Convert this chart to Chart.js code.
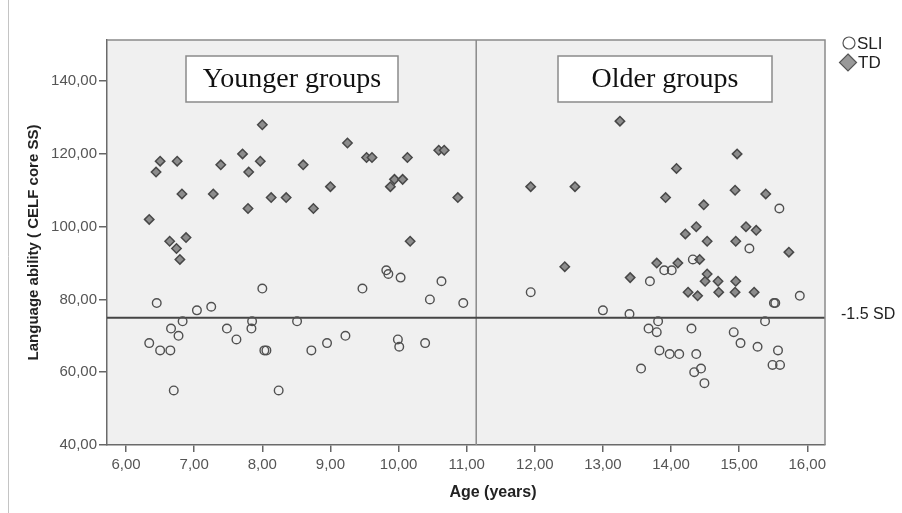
<!DOCTYPE html>
<html>
<head>
<meta charset="utf-8">
<script src="https://cdn.jsdelivr.net/npm/chart.js@4.4.0/dist/chart.umd.min.js"></script>
<style>
  html, body { margin: 0; padding: 0; background: #fff; }
  #wrap { width: 902px; height: 513px; }
</style>
</head>
<body>
<div id="wrap"><canvas id="chart" width="902" height="513"></canvas></div>
<script>
// SLI group: age (years) and CELF core standard score
const sliAge = [6.34, 6.45, 6.50, 6.65, 6.66, 6.70, 6.77, 6.83, 7.04, 7.25, 7.48, 7.62, 7.84, 7.85, 8.00, 8.03,
  8.06, 8.24, 8.51, 8.72, 8.95, 9.22, 9.47, 9.82, 9.85, 9.99, 10.01, 10.03, 10.39, 10.46, 10.63, 10.95,
  11.94, 13.00, 13.39, 13.56, 13.67, 13.69, 13.79, 13.81, 13.83, 13.90, 13.98, 14.01, 14.12, 14.30, 14.32,
  14.34, 14.37, 14.44, 14.49, 14.92, 15.02, 15.15, 15.27, 15.38, 15.49, 15.51, 15.53, 15.57, 15.59, 15.60, 15.89];
const sliScore = [68, 79, 66, 66, 72, 55, 70, 74, 77, 78, 72, 69, 72, 74, 83, 66,
  66, 55, 74, 66, 68, 70, 83, 88, 87, 69, 67, 86, 68, 80, 85, 79,
  82, 77, 76, 61, 72, 85, 71, 74, 66, 88, 65, 88, 65, 72, 91,
  60, 65, 61, 57, 71, 68, 94, 67, 74, 62, 79, 79, 66, 105, 62, 81];

// TD group: age (years) and CELF core standard score
const tdAge = [6.34, 6.44, 6.50, 6.64, 6.74, 6.75, 6.79, 6.82, 6.88, 7.28, 7.39, 7.71, 7.79, 7.80, 7.97, 8.00,
  8.13, 8.35, 8.60, 8.75, 9.00, 9.25, 9.53, 9.61, 9.88, 9.94, 10.06, 10.13, 10.17, 10.59, 10.67, 10.87,
  11.94, 12.44, 12.59, 13.25, 13.40, 13.79, 13.92, 14.08, 14.10, 14.21, 14.25, 14.37, 14.39, 14.42, 14.48,
  14.50, 14.53, 14.53, 14.69, 14.70, 14.94, 14.94, 14.95, 14.95, 14.97, 15.10, 15.22, 15.25, 15.39, 15.73];
const tdScore = [102, 115, 118, 96, 94, 118, 91, 109, 97, 109, 117, 120, 105, 115, 118, 128,
  108, 108, 117, 105, 111, 123, 119, 119, 111, 113, 113, 119, 96, 121, 121, 108,
  111, 89, 111, 129, 86, 90, 108, 116, 90, 98, 82, 100, 81, 91, 106,
  85, 87, 96, 85, 82, 110, 82, 96, 85, 120, 100, 82, 99, 109, 93];

// Axis ticks and reference values
const xTicks = [6, 7, 8, 9, 10, 11, 12, 13, 14, 15, 16];
const yTicks = [40, 60, 80, 100, 120, 140];
const xRange = [5.72, 16.26];
const yRange = [40, 151.3];
const cutoffScore = 75;      // -1.5 SD line
const splitAge = 11.14;      // boundary between age groups
const groupNames = ['Younger groups', 'Older groups'];
const seriesNames = ['SLI', 'TD'];
const cutoffLabel = '-1.5 SD';

const toPoints = (xs, ys) => xs.map((x, i) => ({ x, y: ys[i] }));
const commaFmt = v => Number(v).toFixed(2).replace('.', ',');
const SANS = '"Liberation Sans", Arial, sans-serif';

const decor = {
  id: 'decor',
  beforeDraw(chart) {
    const { ctx, chartArea: a } = chart;
    ctx.save();
    ctx.fillStyle = '#ffffff';
    ctx.fillRect(0, 0, chart.width, chart.height);
    ctx.fillStyle = '#f0f0f0';
    ctx.fillRect(a.left, a.top, a.right - a.left, a.bottom - a.top);
    // outer figure edge
    ctx.strokeStyle = '#c4c4c4';
    ctx.lineWidth = 1;
    ctx.beginPath();
    ctx.moveTo(8.5, 0);
    ctx.lineTo(8.5, chart.height);
    ctx.stroke();
    ctx.restore();
  },
  afterDraw(chart) {
    const { ctx, chartArea: a } = chart;
    ctx.save();
    // plot frame (top and right)
    ctx.strokeStyle = '#8a8a8a';
    ctx.lineWidth = 1.5;
    ctx.beginPath();
    ctx.moveTo(a.left, a.top);
    ctx.lineTo(a.right, a.top);
    ctx.lineTo(a.right, a.bottom);
    ctx.stroke();

    // group label boxes
    const boxes = [[186, 56, 212, 46], [558, 56, 214, 46]];
    ctx.font = '28px "Liberation Serif", "Times New Roman", serif';
    ctx.textAlign = 'center';
    ctx.textBaseline = 'middle';
    boxes.forEach(([bx, by, bw, bh], i) => {
      ctx.fillStyle = '#ffffff';
      ctx.fillRect(bx, by, bw, bh);
      ctx.strokeStyle = '#8a8a8a';
      ctx.lineWidth = 1.5;
      ctx.strokeRect(bx, by, bw, bh);
      ctx.fillStyle = '#111';
      ctx.fillText(groupNames[i], bx + bw / 2, by + bh / 2 + 1);
    });

    // legend
    ctx.textAlign = 'left';
    ctx.font = '17px ' + SANS;
    ctx.lineWidth = 1.2;
    ctx.strokeStyle = '#555';
    ctx.fillStyle = '#ffffff';
    ctx.beginPath();
    ctx.arc(849, 43, 6, 0, Math.PI * 2);
    ctx.fill();
    ctx.stroke();
    ctx.fillStyle = '#222';
    ctx.fillText(seriesNames[0], 857, 44);

    ctx.beginPath();
    ctx.moveTo(848, 54);
    ctx.lineTo(856.5, 62.5);
    ctx.lineTo(848, 71);
    ctx.lineTo(839.5, 62.5);
    ctx.closePath();
    ctx.fillStyle = '#999';
    ctx.fill();
    ctx.strokeStyle = '#555';
    ctx.stroke();
    ctx.fillStyle = '#222';
    ctx.fillText(seriesNames[1], 858, 63);

    // cutoff label
    ctx.font = '16px ' + SANS;
    ctx.fillText(cutoffLabel, 841, chart.scales.y.getPixelForValue(cutoffScore) - 3);

    // x axis title
    ctx.font = 'bold 16px ' + SANS;
    ctx.textAlign = 'center';
    ctx.fillStyle = '#222';
    ctx.fillText('Age (years)', 493, 493);
    ctx.restore();
  }
};

new Chart(document.getElementById('chart'), {
  type: 'scatter',
  data: {
    datasets: [
      {
        label: seriesNames[0],
        data: toPoints(sliAge, sliScore),
        pointStyle: 'circle',
        pointRadius: 4.3,
        borderWidth: 1.4,
        borderColor: '#505050',
        backgroundColor: 'rgba(0,0,0,0)',
        order: 0
      },
      {
        label: seriesNames[1],
        data: toPoints(tdAge, tdScore),
        pointStyle: 'rectRot',
        pointRadius: 4.7,
        borderWidth: 1.5,
        borderColor: '#484848',
        backgroundColor: '#8c8c8c',
        order: 0
      },
      {
        type: 'line',
        label: 'cutoff',
        data: [{ x: xRange[0], y: cutoffScore }, { x: xRange[1], y: cutoffScore }],
        borderColor: '#454545',
        borderWidth: 2,
        pointRadius: 0,
        order: 2
      },
      {
        type: 'line',
        label: 'split',
        data: [{ x: splitAge, y: yRange[0] }, { x: splitAge, y: yRange[1] }],
        borderColor: '#8a8a8a',
        borderWidth: 1.5,
        pointRadius: 0,
        order: 2
      }
    ]
  },
  options: {
    responsive: false,
    devicePixelRatio: 1,
    animation: false,
    events: [],
    layout: { padding: { left: 10, top: 40, right: 77, bottom: 0 } },
    plugins: { legend: { display: false }, tooltip: { enabled: false } },
    scales: {
      x: {
        type: 'linear',
        min: xRange[0],
        max: xRange[1],
        afterBuildTicks: s => { s.ticks = xTicks.map(v => ({ value: v })); },
        afterFit: s => { s.height = 68; },
        ticks: {
          callback: v => commaFmt(v),
          font: { family: SANS, size: 15 },
          color: '#555',
          padding: 4,
          maxRotation: 0
        },
        grid: { display: true, drawOnChartArea: false, drawTicks: true, tickLength: 7, color: '#666', lineWidth: 1.5 },
        border: { display: true, color: '#6a6a6a', width: 1.5 }
      },
      y: {
        type: 'linear',
        min: yRange[0],
        max: yRange[1],
        afterBuildTicks: s => { s.ticks = yTicks.map(v => ({ value: v })); },
        afterFit: s => { s.width = 97; },
        ticks: {
          callback: v => commaFmt(v),
          font: { family: SANS, size: 15 },
          color: '#555',
          padding: 2
        },
        grid: { display: true, drawOnChartArea: false, drawTicks: true, tickLength: 8, color: '#666', lineWidth: 1.5 },
        border: { display: true, color: '#6a6a6a', width: 1.5 },
        title: {
          display: true,
          text: 'Language ability ( CELF core SS)',
          font: { family: SANS, size: 15, weight: 'bold' },
          color: '#222',
          padding: { top: 15, bottom: 0 }
        }
      }
    }
  },
  plugins: [decor]
});
</script>
</body>
</html>
